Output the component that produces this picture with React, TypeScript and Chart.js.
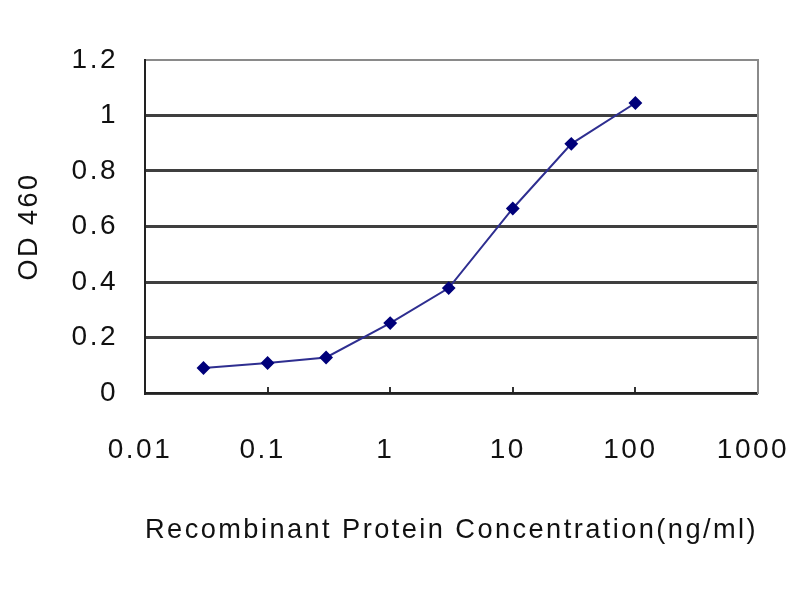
import React, { useEffect, useRef } from "react";
import { Chart, registerables } from "chart.js";

Chart.register(...registerables);

const CONCENTRATIONS = [0.03, 0.1, 0.3, 1, 3, 10, 30, 100];
const OD_VALUES = [0.09, 0.108, 0.128, 0.252, 0.378, 0.665, 0.898, 1.045];
const X_TICKS = [0.01, 0.1, 1, 10, 100, 1000];
const Y_TICKS = [0, 0.2, 0.4, 0.6, 0.8, 1, 1.2];
const X_TITLE = "Recombinant Protein Concentration(ng/ml)";
const Y_TITLE = "OD 460";

const FONT = "'Liberation Sans', Arial, sans-serif";

const spacingPlugin = {
  id: "letterSpacing",
  beforeDraw(chart: any) {
    try {
      chart.ctx.letterSpacing = "2.5px";
    } catch (e) {}
  },
};

export default function App() {
  const ref = useRef<HTMLCanvasElement | null>(null);

  useEffect(() => {
    if (!ref.current) return;
    const chart = new Chart(ref.current, {
      type: "line",
      data: {
        datasets: [
          {
            data: CONCENTRATIONS.map((c, i) => ({ x: c, y: OD_VALUES[i] })),
            borderColor: "#2e2e90",
            borderWidth: 2,
            backgroundColor: "#00007a",
            pointStyle: "rectRot",
            pointRadius: 5.5,
            pointBorderColor: "#00007a",
            pointBackgroundColor: "#00007a",
            tension: 0,
            fill: false,
          },
        ],
      },
      options: {
        responsive: false,
        animation: false,
        events: [],
        layout: { padding: { top: 60, right: 42, left: 0, bottom: 0 } },
        plugins: {
          legend: { display: false },
          tooltip: { enabled: false },
        },
        scales: {
          x: {
            type: "logarithmic",
            position: "bottom",
            min: 0.01,
            max: 1000,
            afterBuildTicks: (scale: any) => {
              scale.ticks = X_TICKS.map((v) => ({ value: v }));
            },
            afterFit: (scale: any) => {
              scale.height = 207;
              scale.paddingLeft = 0;
              scale.paddingRight = 0;
            },
            border: { display: true, color: "#222", width: 2 },
            grid: {
              drawOnChartArea: false,
              drawTicks: true,
              tickLength: -6,
              color: "#333",
              lineWidth: 2,
            },
            ticks: {
              autoSkip: false,
              maxRotation: 0,
              padding: 46,
              labelOffset: -5,
              color: "#111",
              font: { family: FONT, size: 28 },
              callback: (v: any) => String(v),
            },
            title: {
              display: true,
              text: X_TITLE,
              color: "#111",
              font: { family: FONT, size: 28 },
              padding: { top: 0, bottom: 53 },
            },
          },
          y: {
            position: "left",
            min: 0,
            max: 1.2,
            afterBuildTicks: (scale: any) => {
              scale.ticks = Y_TICKS.map((v) => ({ value: v }));
            },
            afterFit: (scale: any) => {
              scale.width = 145;
            },
            border: { display: true, color: "#222", width: 2 },
            grid: {
              drawTicks: false,
              color: (ctx: any) =>
                ctx.tick && ctx.tick.value === 1.2 ? "#8a8a8a" : "#3f3f3f",
              lineWidth: (ctx: any) =>
                ctx.tick && ctx.tick.value === 1.2 ? 2 : 3,
            },
            ticks: {
              padding: 27,
              color: "#111",
              font: { family: FONT, size: 28 },
              callback: (v: any) => String(Math.round(Number(v) * 10) / 10),
            },
            title: {
              display: true,
              text: Y_TITLE,
              color: "#111",
              font: { family: FONT, size: 27 },
              padding: { top: 13, bottom: 0 },
            },
          },
          yRight: {
            position: "right",
            min: 0,
            max: 1.2,
            afterFit: (scale: any) => {
              scale.width = 0;
            },
            border: { display: true, color: "#8a8a8a", width: 2 },
            grid: { drawOnChartArea: false, drawTicks: false },
            ticks: { display: false },
          },
        },
      } as any,
      plugins: [spacingPlugin],
    });
    return () => chart.destroy();
  }, []);

  return (
    <div
      style={{
        position: "fixed",
        left: 0,
        top: 0,
        width: 800,
        height: 600,
        background: "#fff",
      }}
    >
      <canvas ref={ref} width={800} height={600} style={{ width: 800, height: 600 }} />
    </div>
  );
}
